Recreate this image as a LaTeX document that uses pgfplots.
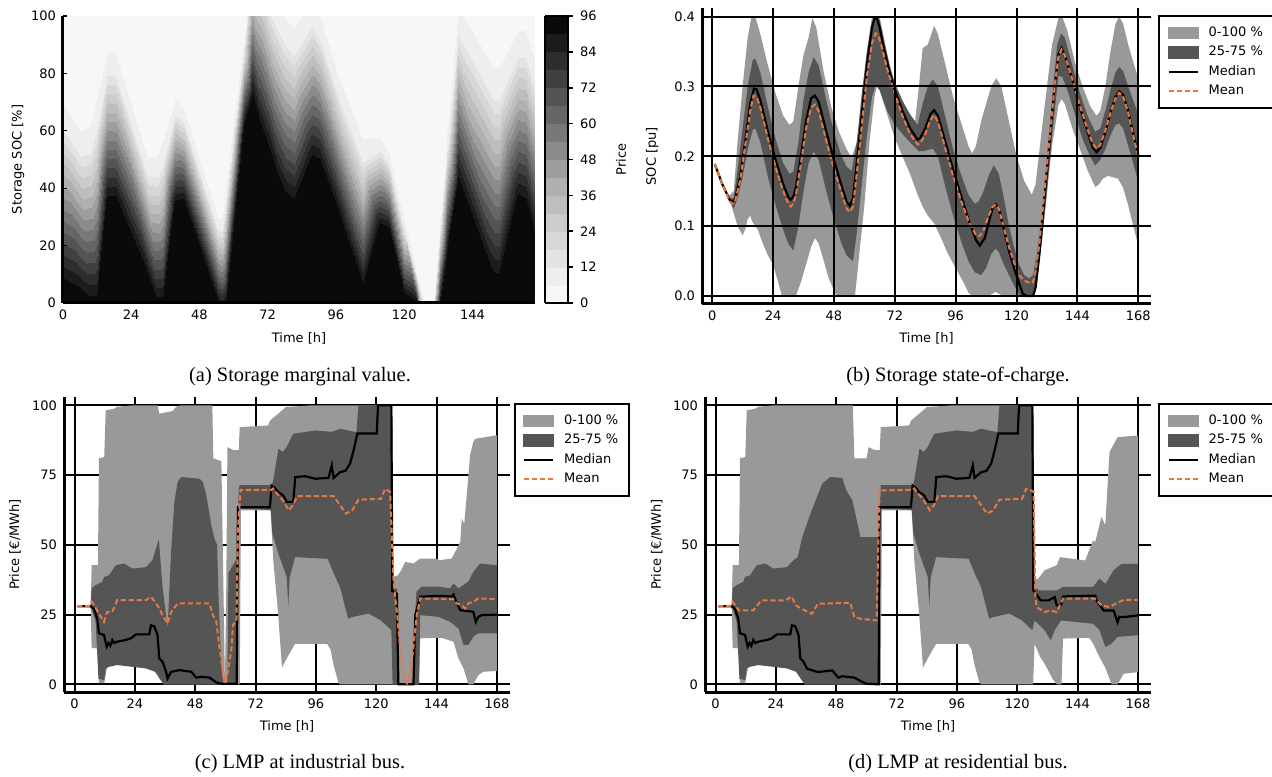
\documentclass[border=0pt]{standalone}
\usepackage{fontspec}
\setmainfont{DejaVu Sans}
\newfontfamily\capfont{Liberation Serif}
\usepackage{pgfplots}
\pgfplotsset{compat=1.18}

\definecolor{bandlight}{gray}{0.6}
\definecolor{banddark}{gray}{0.333}
\definecolor{meancol}{RGB}{230,120,70}

\pgfplotsset{
  every axis/.append style={font=\fontsize{6.5}{7.5}\selectfont,
    /pgf/number format/assume math mode=true, scale only axis},
  bandaxis/.style={
    axis x line*=bottom, axis y line*=left,
    axis line style={line width=1.5pt},
    grid=major, grid style={black, line width=1pt},
    xmin=-4.2, xmax=173.2, xtick={0,24,...,168},
    major tick length=0pt,
    xlabel={Time [h]},
    xlabel style={at={(axis description cs:0.5,-0.115)}, anchor=center},
    legend style={at={(1,1)}, anchor=north west, draw=black, line width=1pt,
      font=\fontsize{6.5}{7.5}\selectfont, inner xsep=4.3pt, inner ysep=4.5pt,
      row sep=1.7pt, column sep=4pt,
      nodes={inner sep=1pt, text height=4.7pt, text depth=1.3pt}},
    legend cell align=left,
  },
}
\newcommand\bandlegend{%
  \addlegendimage{legend image code/.code={\fill[bandlight] (0pt,-2.6pt) rectangle (14.5pt,2.6pt);}}
  \addlegendentry{0-100 \%}
  \addlegendimage{legend image code/.code={\fill[banddark] (0pt,-2.6pt) rectangle (14.5pt,2.6pt);}}
  \addlegendentry{25-75 \%}
  \addlegendimage{legend image code/.code={\draw[black, line width=1pt] (0pt,0pt) -- (14.5pt,0pt);}}
  \addlegendentry{Median}
  \addlegendimage{legend image code/.code={\draw[meancol, line width=1pt, dash pattern=on 2.6pt off 1.4pt] (0pt,0pt) -- (14.5pt,0pt);}}
  \addlegendentry{Mean}
}

\begin{document}
\begin{tikzpicture}
\useasboundingbox (0,0) rectangle (636pt,388pt);

% (a) storage marginal value
\begin{axis}[at={(31.5pt,236.5pt)}, anchor=south west, width=236pt, height=143.5pt,
  view={0}{90}, xmin=0, xmax=166, ymin=0, ymax=100, ztick=\empty,
  xtick={0,24,...,144}, ytick={0,20,...,100},
  axis lines*=left, axis line style={line width=1.5pt},
  tick align=inside, major tick length=2pt, tick style={black, line width=0.6pt},
  axis on top,
  colormap={greysband}{gray=(0.97) gray=(0.935) gray=(0.89) gray=(0.845) gray=(0.80)
    gray=(0.745) gray=(0.69) gray=(0.62) gray=(0.545) gray=(0.47) gray=(0.40)
    gray=(0.33) gray=(0.25) gray=(0.18) gray=(0.11) gray=(0.04)},
  colormap access=piecewise constant,
  point meta min=0, point meta max=96,
  colorbar, colorbar/width=11.5pt,
  colorbar style={at={(parent axis.north east)}, anchor=north west, xshift=-3.5pt,
    scale only axis, width=11.5pt, height=143.5pt, ytick={0,12,...,96}, ytick pos=right,
    yticklabel pos=right, tick align=outside, major tick length=2.5pt,
    tick style={black, line width=0.8pt}, axis line style={line width=0.8pt},
    ylabel={Price}, ylabel style={at={(axis description cs:3.3,0.5)}, anchor=center}},
  xlabel={Time [h]}, ylabel={Storage SOC [\%]},
  xlabel style={at={(axis description cs:0.5,-0.125)}, anchor=center},
  ylabel style={at={(axis description cs:-0.095,0.5)}, anchor=center},
]
\addplot3[surf, shader=interp, mesh/ordering=y varies, mesh/rows=5, point meta=\thisrow{p}]
  table[x=t, y=s, z=p] {
t s p
0 -100 100
0 5 96
0 60.3 12
0 70 6
0 250 0
6.5 -100 100
6.5 1.5 96
6.5 51.2 12
6.5 60 6
6.5 250 0
9.5 -100 100
9.5 -1 96
9.5 52.1 12
9.5 61.5 6
9.5 250 0
11.8 -100 100
11.8 -1 96
11.8 61.1 12
11.8 72 6
11.8 250 0
15.5 -100 100
15.5 34 96
15.5 79.5 12
15.5 87.5 6
15.5 250 0
18.5 -100 100
18.5 34 96
18.5 79.1 12
18.5 87 6
18.5 250 0
30 -100 100
30 7.5 96
30 44.1 12
30 50.5 6
30 250 0
33 -100 100
33 -1 96
33 43.8 12
33 51.7 6
33 250 0
35.2 -100 100
35.2 -1 96
35.2 48.3 12
35.2 57 6
35.2 250 0
39.5 -100 100
39.5 33.6 96
39.5 65.7 12
39.5 71.4 6
39.5 250 0
42.5 -100 100
42.5 34 96
42.5 62.9 12
42.5 68 6
42.5 250 0
54.6 -100 100
54.6 -1 96
54.6 25.4 12
54.6 30 6
54.6 250 0
55.8 -100 100
55.8 -3 96
55.8 25.1 12
55.8 30 6
55.8 250 0
57.3 -100 100
57.3 -1 96
57.3 35.6 12
57.3 42 6
57.3 250 0
60 -100 100
60 27 96
60 60.2 12
60 66 6
60 250 0
63.5 -100 100
63.5 61 96
63.5 88.2 12
63.5 93 6
63.5 250 0
66.5 -100 100
66.5 70.5 96
66.5 116.8 12
66.5 125 6
66.5 250 0
69.8 -100 100
69.8 59 96
69.8 110.9 12
69.8 120 6
69.8 250 0
72.7 -100 100
72.7 50 96
72.7 101 12
72.7 110 6
72.7 250 0
75.5 -100 100
75.5 41 96
75.5 94.6 12
75.5 104 6
75.5 250 0
78.4 -100 100
78.4 35 96
78.4 89.4 12
78.4 99 6
78.4 250 0
81.3 -100 100
81.3 32.6 96
81.3 86.5 12
81.3 96 6
81.3 250 0
87.5 -100 100
87.5 48.5 96
87.5 96.5 12
87.5 105 6
87.5 250 0
90.5 -100 100
90.5 47 96
90.5 92.1 12
90.5 100 6
90.5 250 0
97 -100 100
97 29 96
97 71.5 12
97 79 6
97 250 0
105.5 -100 100
105.5 4 96
105.5 49.1 12
105.5 57 6
105.5 250 0
111.5 -100 100
111.5 26 96
111.5 52.8 12
111.5 57.5 6
111.5 250 0
114.5 -100 100
114.5 24.5 96
114.5 48.7 12
114.5 53 6
114.5 250 0
120 -100 100
120 2 96
120 25.8 12
120 30 6
120 250 0
124.4 -100 100
124.4 -1 96
124.4 9.2 12
124.4 11 6
124.4 250 0
127.5 -100 100
127.5 -20 96
127.5 -4.7 12
127.5 -2 6
127.5 250 0
130 -100 100
130 -15 96
130 -3.1 12
130 -1 6
130 250 0
132.5 -100 100
132.5 -1 96
132.5 25.4 12
132.5 30 6
132.5 250 0
135 -100 100
135 16 96
135 53.4 12
135 60 6
135 250 0
138.8 -100 100
138.8 40.5 96
138.8 93.6 12
138.8 103 6
138.8 250 0
151.5 -100 100
151.5 6.3 96
151.5 70.9 12
151.5 82.3 6
151.5 250 0
153.5 -100 100
153.5 6 96
153.5 70.9 12
153.5 82.3 6
153.5 250 0
160 -100 100
160 34.5 96
160 85.9 12
160 95 6
160 250 0
163 -100 100
163 33 96
163 85.4 12
163 94.6 6
163 250 0
166 -100 100
166 21 96
166 75.4 12
166 85 6
166 250 0
};
\end{axis}

% (b) storage state of charge
\begin{axis}[bandaxis, at={(351pt,236pt)}, anchor=south west, width=224.5pt, height=147.85pt,
  xmin=-4, xmax=173, ymin=-0.0115, ymax=0.412, ytick={0,0.1,0.2,0.3,0.4},
  yticklabel style={/pgf/number format/.cd, fixed, fixed zerofill, precision=1},
  axis on top, ylabel={SOC [pu]},
  ylabel style={at={(axis description cs:-0.111,0.5)}, anchor=center},
  legend style={xshift=3.5pt, yshift=-3.35pt}]
% 0-100 % band: maximum forward, minimum backward
\addplot[fill=bandlight, draw=none, forget plot] coordinates {
(1,0.189) (4,0.162) (6.5,0.143) (8.5,0.15) (10,0.22) (12,0.3) (14,0.37) (15.5,0.40) (17,0.4)
(19,0.375) (22,0.33) (25,0.29) (28,0.258) (30.5,0.245) (32,0.25) (34,0.3) (36,0.345) (38,0.37)
(39.5,0.398) (41,0.385) (44,0.32) (47,0.27) (50,0.235) (53,0.21) (55,0.198) (57,0.22) (59,0.275)
(61,0.35) (63,0.4) (66,0.4) (68,0.365) (70,0.33) (72,0.3) (75,0.275) (78,0.26) (80,0.25)
(81.5,0.3) (83,0.355) (85,0.36) (87.5,0.387) (89,0.375) (92,0.33) (95,0.285) (98,0.25) (101,0.215)
(102.5,0.204) (104,0.215) (106,0.25) (108,0.275) (110,0.3) (112,0.312) (114,0.3) (117,0.25)
(120,0.2) (123,0.165) (126,0.145) (127.5,0.16) (130,0.24) (132,0.3) (134,0.36) (136.5,0.398)
(138,0.4) (140,0.38) (143,0.335) (146,0.3) (149,0.272) (151.5,0.258) (153,0.265) (155,0.3)
(157,0.35) (159,0.39) (160.5,0.4) (162,0.39) (164,0.36) (166,0.335) (168,0.312)
(168,0.072) (166,0.1) (164,0.13) (162,0.155) (160,0.168) (158,0.17) (156,0.172) (154,0.168)
(152.5,0.16) (151,0.156) (148,0.18) (145,0.21) (142,0.24) (139,0.275) (137.7,0.282) (136.5,0.273)
(134,0.215) (132,0.15) (130,0.08) (128,0.02) (126,0) (115,0) (113,0.003) (111.8,0.006) (109,0)
(102.5,0) (101,0.005) (99,0.02) (96,0.04) (93,0.06) (90,0.085) (87.5,0.104) (85,0.115) (83,0.128)
(81,0.145) (78,0.175) (75,0.2) (72,0.226) (69,0.26) (66,0.295) (65,0.302) (64,0.285) (62,0.22)
(60,0.13) (58,0.06) (56.3,0) (49,0) (48,0.008) (46,0.025) (44,0.05) (42,0.075) (40.5,0.083)
(39,0.07) (37,0.045) (35,0.02) (33,0) (27.5,0) (26,0.02) (24,0.045) (22,0.058) (20,0.075)
(18,0.095) (16,0.105) (15,0.115) (14,0.11) (13,0.095) (12,0.087) (10,0.1) (8,0.125) (6.5,0.14)
(4,0.16) (1,0.189)};
% 25-75 % band
\addplot[fill=banddark, draw=none, forget plot] coordinates {
(1,0.189) (4,0.16) (6.5,0.14) (8.5,0.14) (10,0.18) (12,0.24) (14,0.3) (16,0.338) (17,0.34)
(19,0.32) (22,0.27) (25,0.225) (28,0.19) (30.5,0.175) (32,0.178) (34,0.22) (36,0.28) (38,0.32)
(40,0.342) (42,0.33) (45,0.28) (48,0.235) (51,0.2) (53,0.185) (55,0.179) (57,0.22) (59,0.29)
(61,0.35) (63,0.392) (64.5,0.4) (66,0.395) (68,0.36) (70,0.33) (72,0.305) (75,0.28) (78,0.26)
(81,0.245) (83,0.275) (85,0.3) (87,0.31) (89,0.3) (92,0.255) (95,0.21) (98,0.175) (101,0.145)
(103.5,0.132) (105,0.135) (107,0.15) (109,0.172) (111,0.187) (113,0.175) (115,0.14) (117,0.1)
(119,0.07) (121,0.045) (123,0.03) (125,0.025) (126.5,0.03) (128,0.06) (130,0.12) (132,0.2)
(134,0.28) (136,0.36) (137.5,0.376) (139,0.37) (142,0.33) (145,0.29) (148,0.258) (151,0.235)
(153,0.24) (155,0.265) (157,0.295) (159,0.32) (160.5,0.328) (162,0.322) (164,0.3) (166,0.28)
(168,0.26)
(168,0.163) (166,0.19) (164,0.215) (162,0.24) (160.5,0.247) (159,0.245) (157,0.23) (155,0.21)
(153,0.195) (151,0.187) (149,0.2) (146,0.225) (143,0.26) (140,0.295) (138,0.314) (136.5,0.315)
(134,0.23) (132,0.15) (130,0.08) (128,0.02) (126.7,0) (122,0) (121,0.003) (119,0.015) (117,0.03)
(115,0.045) (113,0.063) (111.8,0.068) (110,0.06) (108,0.04) (106,0.03) (103.5,0.034) (101,0.05)
(98,0.08) (95,0.115) (92,0.155) (89,0.2) (87,0.211) (84,0.208) (81.5,0.207) (78,0.22) (75,0.232)
(72,0.245) (69,0.265) (66,0.295) (64.5,0.302) (63,0.285) (61,0.23) (59,0.16) (57,0.09)
(55.5,0.05) (53,0.058) (51,0.075) (48,0.11) (45,0.15) (42,0.195) (40,0.207) (38,0.19) (36,0.15)
(34,0.1) (32,0.065) (30,0.075) (28,0.095) (25,0.13) (22,0.17) (19,0.22) (17,0.24) (16,0.238)
(14,0.21) (12,0.17) (10,0.14) (8.5,0.125) (6.5,0.138) (4,0.16) (1,0.189)};
\addplot[black, line width=1.1pt, forget plot] coordinates {
(1,0.189) (4,0.16) (7,0.137) (8,0.135) (9,0.138) (11,0.17) (13,0.22) (15,0.275) (16.5,0.297)
(17.5,0.296) (19,0.28) (22,0.235) (25,0.195) (28,0.16) (30,0.142) (31,0.138) (32,0.142) (33,0.155)
(35,0.2) (37,0.25) (39,0.283) (40.5,0.287) (42,0.278) (45,0.235) (48,0.195) (51,0.158) (53,0.135)
(54.3,0.129) (55.5,0.14) (57,0.19) (59,0.26) (61,0.33) (63,0.385) (64,0.398) (65,0.397) (66,0.385)
(68,0.35) (70,0.32) (72,0.295) (75,0.265) (78,0.24) (81,0.224) (82,0.226) (84,0.24) (86,0.26)
(87.5,0.266) (89,0.258) (92,0.22) (95,0.18) (98,0.145) (101,0.11) (104,0.08) (105.5,0.072)
(106.5,0.078) (107.5,0.083) (109,0.105) (110.5,0.125) (111.8,0.131) (113,0.125) (115,0.095)
(117,0.065) (119,0.04) (121,0.018) (122.5,0.003) (124,0) (126.5,0) (127.5,0.012) (129,0.06)
(131,0.14) (133,0.22) (135,0.3) (136.5,0.345) (137.7,0.355) (139,0.345) (142,0.31) (145,0.27)
(148,0.235) (150,0.213) (151.5,0.206) (153,0.212) (155,0.235) (157,0.262) (159,0.285)
(160.5,0.293) (162,0.288) (164,0.265) (166,0.232) (168,0.203)};
\addplot[meancol, line width=1pt, dash pattern=on 2.6pt off 1.4pt, forget plot] coordinates {
(1,0.189) (4,0.16) (7,0.135) (8,0.132) (9,0.135) (11,0.165) (13,0.215) (15,0.265) (16.3,0.287)
(17.5,0.285) (19,0.27) (22,0.225) (25,0.185) (28,0.15) (30,0.132) (31,0.128) (32,0.132) (33,0.145)
(35,0.19) (37,0.24) (39,0.27) (40.5,0.274) (42,0.265) (45,0.222) (48,0.182) (51,0.148) (53,0.125)
(54.3,0.12) (55.5,0.128) (57,0.175) (59,0.245) (61,0.315) (63,0.362) (64.5,0.376) (65.5,0.373)
(67,0.355) (69,0.325) (72,0.29) (75,0.258) (78,0.232) (81,0.217) (82,0.218) (84,0.232) (86,0.252)
(87.5,0.259) (89,0.25) (92,0.21) (95,0.172) (98,0.138) (101,0.108) (104,0.087) (105.5,0.086)
(107,0.095) (109,0.115) (110.5,0.127) (111.8,0.131) (113,0.125) (115,0.097) (117,0.07) (119,0.048)
(121,0.03) (123,0.022) (125.5,0.018) (126.5,0.02) (127.5,0.035) (129,0.075) (131,0.15) (133,0.225)
(135,0.3) (136.5,0.343) (137.7,0.353) (139,0.345) (142,0.31) (145,0.272) (148,0.238) (150,0.218)
(151.5,0.211) (153,0.216) (155,0.237) (157,0.262) (159,0.283) (160.5,0.291) (162,0.286)
(164,0.263) (166,0.23) (168,0.199)};
\bandlegend
\end{axis}

% (c) LMP at industrial bus
\begin{axis}[bandaxis, at={(32pt,42pt)}, anchor=south west, width=223pt, height=147.5pt,
  ymin=-2.75, ymax=103, ytick={0,25,50,75,100},
  ylabel={Price [€/MWh]},
  ylabel style={at={(axis description cs:-0.11,0.5)}, anchor=center},
  legend style={xshift=1.75pt, yshift=-3pt}]
\addplot[fill=bandlight, draw=none, forget plot] coordinates {
(1,28) (6.4,28) (6.8,42.7) (9.3,42.7) (9.7,81) (11.8,81.5) (12.4,98.2) (15.7,98.8) (17,99.5)
(23,100) (33,100) (33.7,97) (39,98) (40.4,99.5) (42,100) (54.8,100) (55.2,81) (58.4,80)
(59.3,30) (59.8,1) (60.3,30) (60.8,85) (63.2,84) (65.3,84) (65.7,92.2) (77,92.8) (77.8,94.6)
(81,97) (84,99.4) (94,100) (126.3,100) (126.8,38.5) (128.5,39) (130,41) (131.5,43.9) (134.8,43.3)
(137.5,45.1) (143.5,45.1) (145.4,44.5) (150,45.1) (151.4,47.5) (153.4,51) (154,59.4) (155,57.6)
(156,67.8) (157.3,82.1) (158.6,86.9) (159.3,88) (168,89.3)
(168,4.8) (162.6,4.5) (160.6,3.3) (158.6,0) (156.7,0) (154.7,5.7) (152.7,9.3) (150.7,15.3)
(146,16.7) (137.5,16.5) (137,0) (105.6,0) (105,0.5) (103,7) (101.8,12.5) (100.5,14.5) (87.7,14.5)
(84.5,9.5) (82.5,6) (81,25) (79,45) (78,62.4) (66.2,62.4) (65.7,0) (35.5,0) (35,0.5) (33.7,2.1)
(30.4,8.7) (28.4,9.3) (18.4,9.9) (14,8) (13.1,6.9) (11.8,0.4) (9.7,0.4) (9.3,12.9) (6.8,13)
(6.4,28) (1,28)};
\addplot[fill=banddark, draw=none, forget plot] coordinates {
(1,28) (6.4,28) (6.8,34.4) (8.4,35.6) (11,36.7) (11.7,38.5) (13.7,39.1) (16.4,42.7) (19.7,43.3)
(23,41.5) (28.4,42) (31,44.5) (33.5,52) (35,35) (37,20) (38.4,47.5) (39.7,65.4) (41,72.6)
(42.4,74.3) (49.7,73.7) (51,72.6) (52.4,67.8) (54.4,57) (55.7,52) (56.7,50) (57.3,30) (58.5,5)
(59.2,0) (60.8,0) (61.2,40) (64.5,45) (65.3,70) (65.7,71.4) (78.4,71.4) (79,73) (81.1,84.5)
(82.8,83.3) (84.4,85.1) (86.9,89.8) (95.8,91) (102.3,90.5) (105.6,91.6) (112.1,90.4) (112.9,100)
(126.3,100) (126.8,35) (128.3,34) (128.8,0) (134.8,0) (135.5,25) (136,33.2) (138,35) (144.7,35)
(149.4,34.4) (150.7,36.2) (152.7,34.4) (156.6,36.8) (158.6,40.3) (161.3,43.3) (168,42.7)
(168,18.3) (160.6,18.3) (158.6,17.1) (156.6,14.1) (154.7,14.1) (152.7,20) (149.4,22.4)
(144.7,24.2) (137.5,24.8) (137,0) (126.5,0) (126,19.4) (121.9,22.9) (116.9,25.4) (110,24)
(108.8,23.5) (105.6,34.9) (103.1,39.7) (100.7,45) (87.7,45.6) (85.6,38.5) (85,28) (84.4,38.5)
(81.1,46.8) (78.7,54) (78,62.5) (65.3,63) (64.8,0) (35.5,0) (35,0.7) (32,4.5) (28.4,5.7) (17,6.9)
(13.7,6.3) (12.4,5.7) (11.8,1.5) (9.5,2) (8.4,22.4) (6.8,27.2) (6.4,28) (1,28)};
\addplot[black, line width=1.1pt, forget plot] coordinates {
(1,28) (6.4,28) (7.7,27) (9,23.6) (9.7,18.3) (11.7,17.7) (12.8,13.5) (13.5,14.8) (14.2,13.8)
(15,15.9) (15.7,14.8) (17,15.3) (20.4,15.9) (22.4,16.5) (24.4,17.9) (29.7,17.9) (30.4,21.2)
(31.7,20.8) (33,17.7) (33.7,9.3) (35,8.1) (36.4,4.5) (37,2.1) (38.4,4.5) (41.7,5.1) (46.4,4.5)
(48.4,2.4) (50.4,2.7) (53.7,2.4) (56.4,0.7) (58.4,0.2) (64.5,0.2) (65,63.5) (77.7,63.5)
(78.4,71.2) (79.5,70.5) (81,68.9) (83,67.7) (84.4,65.4) (87,65.4) (87.8,74.3) (91.7,74.6)
(95.8,73.7) (101,74) (102.3,78.5) (103,74) (105.7,76.1) (107.7,76.5) (109.6,79.1) (111,83.9)
(112.5,89.9) (120.2,89.9) (120.7,100) (126,100) (126.4,33.5) (128.2,32.5) (128.8,0) (134.8,0)
(135.5,24.8) (136.2,27.2) (137.5,31.4) (144.7,31.7) (150,31.5) (150.7,32.2) (151.4,30.5)
(153.4,26.6) (158.6,26) (159.6,22.4) (160.6,24.2) (162,24.8) (168,25)};
\addplot[meancol, line width=1pt, dash pattern=on 2.6pt off 1.4pt, forget plot] coordinates {
(1,28) (5.7,28) (6.8,29.6) (7.7,28.5) (9.7,25.4) (11.7,22.4) (13,25.9) (15,26) (17,30.2)
(28.4,30.2) (30.4,31.4) (32.4,29) (33.7,27.2) (35,24.8) (37,21.8) (38.4,26) (41,29) (53.7,29)
(55,24.8) (56.4,22.4) (57.7,12.9) (59,4.5) (59.7,0.4) (61,4.5) (62.4,12.9) (63,21.2) (64.4,23)
(65,55.8) (66,69.7) (78.4,69.7) (79,70.2) (80,69) (82.8,66) (85.2,62.4) (86.9,64.2) (88.5,67.5)
(103,67.5) (105.6,64.2) (108,61.2) (110.5,62.4) (112.9,66.2) (121.9,66.5) (123.5,70.1)
(125.5,69) (126.9,36.8) (128.2,26) (129.5,12.9) (130.8,3.3) (132.2,0.4) (133.5,2.7) (134.8,13.5)
(136.1,24.8) (137.5,30.8) (150.7,30.5) (152,29) (154,28.4) (155.3,27.2) (156.6,29) (158.6,29.6)
(160.6,30.8) (168,30.5)};
\bandlegend
\end{axis}

% (d) LMP at residential bus
\begin{axis}[bandaxis, at={(352.5pt,42pt)}, anchor=south west, width=223pt, height=147.5pt,
  ymin=-2.75, ymax=103, ytick={0,25,50,75,100},
  ylabel={Price [€/MWh]},
  ylabel style={at={(axis description cs:-0.108,0.5)}, anchor=center},
  legend style={xshift=3.5pt, yshift=-3pt}]
\addplot[fill=bandlight, draw=none, forget plot] coordinates {
(1,28) (6.4,28) (6.8,42.7) (9.3,42.7) (9.7,81) (11.8,81.5) (12.4,98.2) (15.7,98.8) (17,99.5)
(23,100) (54.6,100) (55.2,81) (60,81) (60.9,85) (63.3,84) (65.3,84) (65.7,92.2) (77,92.8)
(77.8,94.6) (81,97) (84,99.4) (94,100) (126.3,100) (126.8,38.5) (128,37.5) (130.9,40.9)
(135.7,42.7) (137,45.6) (147,44.4) (150.2,51.6) (151,51) (153.5,60) (155,57) (156.7,83.3)
(159.9,88.6) (168,89.2)
(168,4.4) (162.3,3.8) (159.9,0) (157.5,0) (155,6) (152.7,9.8) (150.2,14.5) (148.6,16.7)
(138.2,16.4) (137.6,0) (135.7,0) (134,2) (130.9,7.4) (129,10) (126.9,14.6) (126.3,0) (105.6,0)
(105,0.5) (103,7) (101.8,12.5) (100.5,14.5) (87.7,14.5) (84.5,9.5) (82.5,6) (81,25) (79,45)
(78,62.4) (66.2,62.4) (65.7,0) (35.5,0) (35,0.5) (33.7,2.1) (30.4,8.7) (28.4,9.3) (18.4,9.9)
(14,8) (13.1,6.9) (11.8,0.4) (9.7,0.4) (9.3,12.9) (6.8,13) (6.4,28) (1,28)};
\addplot[fill=banddark, draw=none, forget plot] coordinates {
(1,28) (6.4,28) (6.8,34.4) (8.4,35.6) (11,36.7) (11.7,38.5) (13.7,39.1) (16.4,42.7) (19.7,43.3)
(23,41.5) (28.4,42) (31,44.5) (32.7,45.6) (34.3,52.2) (37.5,60.6) (42.4,71.9) (45.6,74.3)
(50.4,74) (52,69.5) (54.4,66) (57.6,52.8) (64.9,52.8) (65.4,65) (65.7,71.4) (78.4,71.4) (79,73)
(81.1,84.5) (82.8,83.3) (84.4,85.1) (86.9,89.8) (95.8,91) (102.3,90.5) (105.6,91.6) (112.1,90.4)
(112.9,100) (126.3,100) (126.9,34.9) (128.5,33.7) (135.7,33.7) (138.2,34.9) (150.2,34.9)
(152.7,37.9) (155.1,36) (158.3,40.9) (161.5,43.2) (168,43.2)
(168,17.6) (159.9,17) (157.5,14.6) (155.1,13.4) (152.7,19.4) (150.2,21.7) (137.4,22.9)
(134.9,19.4) (133.3,15.8) (130.9,19.4) (126.9,22.9) (126,19.4) (121.9,22.9) (116.9,25.4) (110,24)
(108.8,23.5) (105.6,34.9) (103.1,39.7) (100.7,45) (87.7,45.6) (85.6,38.5) (85,28) (84.4,38.5)
(81.1,46.8) (78.7,54) (78,62.5) (65.4,63) (65,0) (35.5,0) (35,0.7) (32,4.5) (28.4,5.7) (17,6.9)
(13.7,6.3) (12.4,5.7) (11.8,1.5) (9.5,2) (8.4,22.4) (6.8,27.2) (6.4,28) (1,28)};
\addplot[black, line width=1.1pt, forget plot] coordinates {
(1,28) (6.4,28) (7.7,27) (9,23.6) (9.7,18.3) (11.7,17.7) (12.8,13.5) (13.5,14.8) (14.2,13.8)
(15,15.9) (15.7,14.8) (17,15.3) (20.4,15.9) (22.4,16.5) (24.4,17.9) (29.7,17.9) (30.4,21.2)
(31.7,20.8) (33,17.7) (33.7,9.3) (35,8.1) (36.4,5.6) (40.7,4.4) (46.4,5) (48.8,2.4) (50.4,2.9)
(55.2,2.4) (58.5,0.8) (60,0.2) (64.9,0) (65.2,63.5) (77.7,63.5) (78.4,71.2) (79.5,70.5)
(81,68.9) (83,67.7) (84.4,65.4) (87,65.4) (87.8,74.3) (91.7,74.6) (95.8,73.7) (101,74)
(102.3,78.5) (103,74) (105.7,76.1) (107.7,76.5) (109.6,79.1) (111,83.9) (112.5,89.9)
(120.2,89.9) (120.7,100) (126,100) (126.4,33.5) (126.9,33.1) (129.3,30.1) (132.5,30.1)
(134.9,31.3) (135.7,28.3) (137.4,28.3) (138.2,31.5) (151,31.8) (151.6,30) (154.3,26.5)
(158.3,26.5) (159.9,22.3) (160.6,24.2) (162.3,24.1) (168,24.7)};
\addplot[meancol, line width=1pt, dash pattern=on 2.6pt off 1.4pt, forget plot] coordinates {
(1,28) (5.7,28) (6.8,29.6) (7.7,28.5) (9.3,26.5) (15,26.5) (18.2,30.1) (27.9,30.1) (30.3,31.5)
(31.9,28.3) (34.3,27.1) (36.7,25.9) (38.3,25.3) (40.7,28.9) (53.6,29.2) (55.2,24.1) (57.6,23.5)
(64.1,22.9) (65.2,69.5) (78.4,69.7) (79,70.2) (80,69) (82.8,66) (85.2,62.4) (86.9,64.2)
(88.5,67.5) (103,67.5) (105.6,64.2) (108,61.2) (110.5,62.4) (112.9,66.2) (121.9,66.5)
(123.5,70.1) (125.5,69.5) (126.5,69) (127.2,31.3) (127.7,27.7) (130.9,25.9) (133.3,26.5)
(135.7,25.9) (138.2,30.7) (151,30.7) (153.5,28.3) (156.7,27.7) (159.1,28.9) (162.3,30.3)
(168,30.3)};
\bandlegend
\end{axis}

\node[font=\capfont\fontsize{10.2}{12}\selectfont] at (150pt,199.5pt) {(a) Storage marginal value.};
\node[font=\capfont\fontsize{10.2}{12}\selectfont] at (479pt,199.5pt) {(b) Storage state-of-charge.};
\node[font=\capfont\fontsize{10.2}{12}\selectfont] at (150pt,6pt) {(c) LMP at industrial bus.};
\node[font=\capfont\fontsize{10.2}{12}\selectfont] at (479pt,6pt) {(d) LMP at residential bus.};
\end{tikzpicture}
\end{document}
